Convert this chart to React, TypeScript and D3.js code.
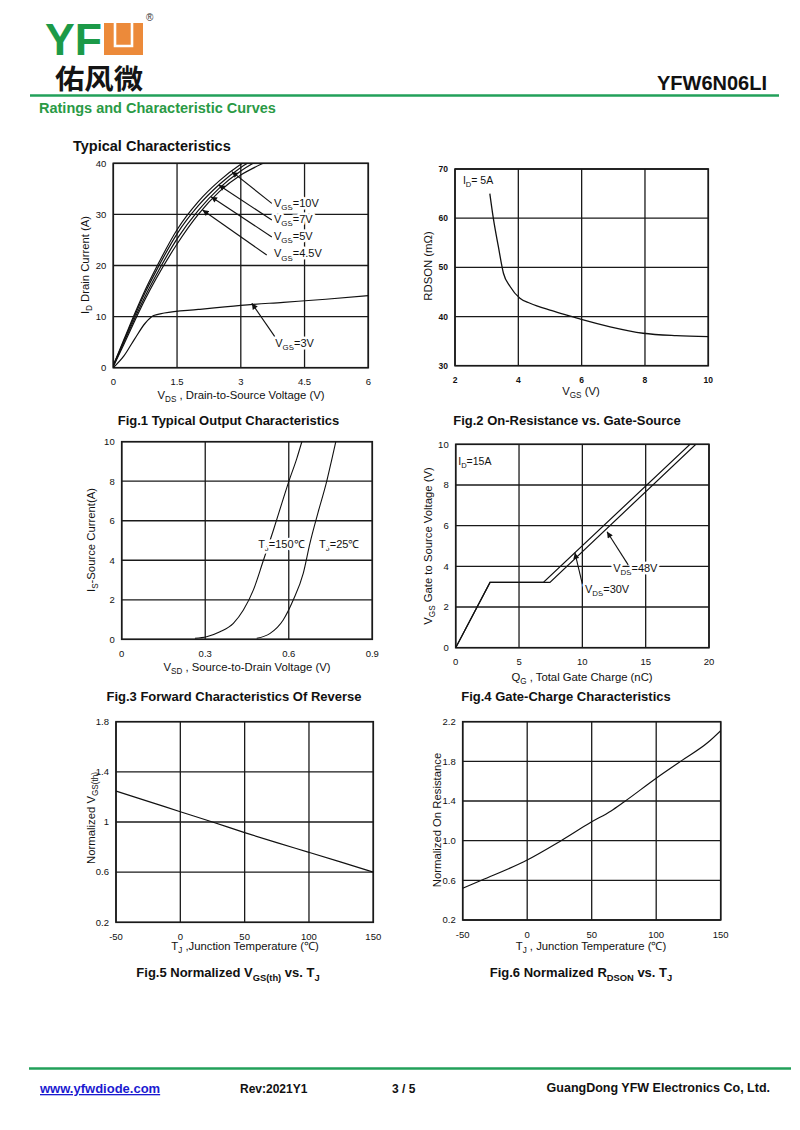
import React from 'react';
import * as d3 from 'd3';

const FONT = '"Liberation Sans", Arial, Helvetica, sans-serif';
const GRID = '#1a1a1a';
const GREEN = '#22a05a';

// ---------- Fig.1 Typical Output Characteristics ----------
const fig1Vds = [0, 0.25, 0.5, 0.75, 1, 1.5, 2, 2.5, 3, 3.5, 3.8];
const fig1Id10 = [0.5, 5.5, 10.5, 15.2, 19.4, 27, 32.5, 36.6, 39.8, 42.2, 43.5];
const fig1Id7 = [0.4, 5.3, 10.1, 14.7, 18.8, 26.2, 31.7, 35.9, 39.2, 41.6, 42.9];
const fig1Id5 = [0.3, 5.0, 9.6, 14.0, 18.0, 25.2, 30.8, 35.2, 38.5, 41.0, 42.3];
const fig1Id45 = [0.2, 4.6, 9.1, 13.4, 17.3, 24.2, 30.0, 34.5, 37.7, 39.9, 41.0];
const fig1Vds3 = [0, 0.25, 0.5, 0.75, 0.95, 1.2, 2, 3, 4, 5, 6];
const fig1Id3 = [0, 2.3, 5.6, 8.7, 10.2, 10.7, 11.4, 12.2, 12.8, 13.4, 14.1];
const fig1Labels = ['=10V', '=7V', '=5V', '=4.5V'];
const fig1XTicks = [0, 1.5, 3, 4.5, 6];
const fig1YTicks = [0, 10, 20, 30, 40];

// ---------- Fig.2 On-Resistance vs. Gate-Source ----------
const fig2Vgs = [3.1, 3.21, 3.37, 3.53, 3.74, 4.05, 4.37, 5.0, 5.53, 6.05, 6.9, 7.94, 8.99, 10];
const fig2Rds = [65, 60, 54.2, 48.8, 46.1, 43.7, 42.7, 41.3, 40.3, 39.3, 37.9, 36.6, 36.1, 35.9];
const fig2XTicks = [2, 4, 6, 8, 10];
const fig2YTicks = [30, 40, 50, 60, 70];

// ---------- Fig.3 Forward Characteristics Of Reverse ----------
const fig3V150 = [0.263, 0.305, 0.353, 0.401, 0.437, 0.473, 0.509, 0.545, 0.575, 0.6, 0.629, 0.647];
const fig3I150 = [0.05, 0.13, 0.38, 0.81, 1.48, 2.5, 4.0, 5.53, 6.88, 7.98, 9.16, 10];
const fig3V25 = [0.485, 0.533, 0.58, 0.616, 0.652, 0.676, 0.706, 0.736, 0.754, 0.769];
const fig3I25 = [0.05, 0.3, 0.98, 1.99, 3.34, 4.86, 6.46, 7.98, 9.07, 10];
const fig3XTicks = [0, 0.3, 0.6, 0.9];
const fig3YTicks = [0, 2, 4, 6, 8, 10];

// ---------- Fig.4 Gate-Charge Characteristics ----------
const fig4Q30 = [0, 2.71, 6.92, 18.5];
const fig4V30 = [0, 3.21, 3.21, 10];
const fig4Q48 = [0, 2.71, 7.44, 18.96];
const fig4V48 = [0, 3.21, 3.21, 10];
const fig4XTicks = [0, 5, 10, 15, 20];
const fig4YTicks = [0, 2, 4, 6, 8, 10];

// ---------- Fig.5 Normalized VGS(th) vs. TJ ----------
const fig5T = [-50, -25, 0, 25, 50, 75, 100, 125, 150];
const fig5V = [1.247, 1.165, 1.082, 1.0, 0.915, 0.835, 0.758, 0.68, 0.6];
const fig5XTicks = [-50, 0, 50, 100, 150];
const fig5YTicks = [0.2, 0.6, 1, 1.4, 1.8];

// ---------- Fig.6 Normalized RDSON vs. TJ ----------
const fig6T = [-50, -35, 0, 25, 50, 65, 75, 100, 120, 140, 150];
const fig6R = [0.52, 0.603, 0.805, 0.99, 1.19, 1.3, 1.39, 1.63, 1.81, 1.99, 2.11];
const fig6XTicks = [-50, 0, 50, 100, 150];
const fig6YTicks = [0.2, 0.6, 1.0, 1.4, 1.8, 2.2];

type Part = [string, string?];

function Rich({ parts, fs, ...props }: any) {
  const out: any[] = [];
  let shifted = false;
  const off = fs * 0.28;
  parts.forEach((p: Part, i: number) => {
    const [t, s] = p;
    if (s === 'sub') {
      out.push(
        <tspan key={i} fontSize={fs * 0.72} dy={shifted ? 0 : off}>
          {t}
        </tspan>
      );
      shifted = true;
    } else {
      out.push(
        <tspan key={i} dy={shifted ? -off : 0}>
          {t}
        </tspan>
      );
      shifted = false;
    }
  });
  return (
    <text fontSize={fs} fontFamily={FONT} {...props}>
      {out}
    </text>
  );
}

function Frame({ x, y, xt, yt, xf, yf, fw = 400, fs = 9.5, id }: any) {
  const [x0, x1] = x.range();
  const [y0, y1] = y.range();
  return (
    <g>
      <defs>
        <clipPath id={id}>
          <rect x={x0} y={y1} width={x1 - x0} height={y0 - y1} />
        </clipPath>
      </defs>
      {xt.map((t: number) => (
        <line key={'gx' + t} x1={x(t)} x2={x(t)} y1={y0} y2={y1} stroke={GRID} strokeWidth={1.3} />
      ))}
      {yt.map((t: number) => (
        <line key={'gy' + t} x1={x0} x2={x1} y1={y(t)} y2={y(t)} stroke={GRID} strokeWidth={1.3} />
      ))}
      <rect x={x0} y={y1} width={x1 - x0} height={y0 - y1} fill="none" stroke={GRID} strokeWidth={1.6} />
      {xt.map((t: number) => (
        <text key={'tx' + t} x={x(t)} y={y0 + 17.5} textAnchor="middle" fontSize={fs} fontWeight={fw} fontFamily={FONT} fill="#111">
          {xf(t)}
        </text>
      ))}
      {yt.map((t: number) => (
        <text key={'ty' + t} x={x0 - 7} y={y(t)} dy="0.35em" textAnchor="end" fontSize={fs} fontWeight={fw} fontFamily={FONT} fill="#111">
          {yf(t)}
        </text>
      ))}
    </g>
  );
}

function mkLine(x: any, y: any, xs: number[], ys: number[], curve: any = d3.curveMonotoneX) {
  const pts = d3.zip(xs, ys) as [number, number][];
  return d3
    .line<[number, number]>()
    .x((d) => x(d[0]))
    .y((d) => y(d[1]))
    .curve(curve)(pts) as string;
}

const halo = { stroke: 'white', strokeWidth: 5, paintOrder: 'stroke', strokeLinejoin: 'round' } as any;

function Arrow({ x1, y1, x2, y2 }: any) {
  return <line x1={x1} y1={y1} x2={x2} y2={y2} stroke="#111" strokeWidth={1.1} markerEnd="url(#ah)" />;
}

const fmt = (t: number) => String(t);
const fmt1 = (t: number) => t.toFixed(1);

export default function App() {
  // scales
  const x1 = d3.scaleLinear().domain([0, 6]).range([113.3, 368.3]);
  const y1 = d3.scaleLinear().domain([0, 40]).range([367.7, 163.3]);
  const x2 = d3.scaleLinear().domain([2, 10]).range([455, 708.3]);
  const y2 = d3.scaleLinear().domain([30, 70]).range([365.7, 169]);
  const x3 = d3.scaleLinear().domain([0, 0.9]).range([121.7, 372.3]);
  const y3 = d3.scaleLinear().domain([0, 10]).range([639.3, 441.7]);
  const x4 = d3.scaleLinear().domain([0, 20]).range([455.7, 709]);
  const y4 = d3.scaleLinear().domain([0, 10]).range([647.7, 444.3]);
  const x5 = d3.scaleLinear().domain([-50, 150]).range([116, 373.3]);
  const y5 = d3.scaleLinear().domain([0.2, 1.8]).range([922.3, 721.7]);
  const x6 = d3.scaleLinear().domain([-50, 150]).range([462.7, 720.7]);
  const y6 = d3.scaleLinear().domain([0.2, 2.2]).range([920, 721.7]);

  const fig1Series = [fig1Id10, fig1Id7, fig1Id5, fig1Id45];
  // annotation anchors (data units)
  const fig1LabelI = [31.5, 28.26, 25.0, 21.57];
  const fig1TailI = [32.17, 28.9, 25.58, 22.05];
  const fig1TailV = [3.73, 3.73, 3.73, 3.61];
  const fig1TipV = [2.79, 2.48, 2.3, 2.1];
  const fig1TipI = [38.36, 35.75, 33.46, 30.86];

  const fs = 11.3;

  return (
    <svg width={800} height={1130} style={{ position: 'absolute', left: 0, top: 0, background: 'white' }} fontFamily={FONT}>
      <defs>
        <marker id="ah" viewBox="0 0 10 10" refX={10} refY={5} markerWidth={7} markerHeight={6} markerUnits="userSpaceOnUse" orient="auto">
          <path d="M0,0 L10,5 L0,10 z" fill="#111" />
        </marker>
      </defs>
      <rect x={0} y={0} width={800} height={1130} fill="white" />

      {/* ---------- Header ---------- */}
      <text x={45} y={54.5} fontSize={44} fontWeight={700} fill="#1c9a48" fontFamily={FONT} textLength={57} lengthAdjust="spacingAndGlyphs">
        YF
      </text>
      <rect x={104} y={23} width={39} height={32} fill="#ec8a3a" />
      <path d="M115,23 L115,46 L132,46 L132,23" fill="none" stroke="white" strokeWidth={2.6} />
      <text x={146} y={21} fontSize={10} fill="#333" fontFamily={FONT}>®</text>
      <text x={55} y={89} fontSize={27.5} fontWeight={700} fill="#141414" fontFamily='"Noto Sans CJK SC", sans-serif' textLength={88} lengthAdjust="spacingAndGlyphs">
        佑风微
      </text>
      <text x={767} y={90} fontSize={20} fontWeight={700} textAnchor="end" fill="#111" fontFamily={FONT}>
        YFW6N06LI
      </text>
      <line x1={30} x2={779} y1={95.5} y2={95.5} stroke={GREEN} strokeWidth={2.6} />
      <text x={39} y={113} fontSize={14.5} fontWeight={700} fill="#2a9a45" fontFamily={FONT}>
        Ratings and Characteristic Curves
      </text>
      <text x={73} y={151} fontSize={14.5} fontWeight={700} fill="#111" fontFamily={FONT}>
        Typical Characteristics
      </text>

      {/* ---------- Fig.1 ---------- */}
      <Frame x={x1} y={y1} xt={fig1XTicks} yt={fig1YTicks} xf={fmt} yf={fmt} id="c1" />
      <g clipPath="url(#c1)" fill="none" stroke="#111" strokeWidth={1.2}>
        {fig1Series.map((s, i) => (
          <path key={i} d={mkLine(x1, y1, fig1Vds, s)} />
        ))}
        <path d={mkLine(x1, y1, fig1Vds3, fig1Id3)} />
      </g>
      {fig1Labels.map((l, i) => (
        <g key={l}>
          <Arrow x1={x1(fig1TailV[i])} y1={y1(fig1TailI[i])} x2={x1(fig1TipV[i])} y2={y1(fig1TipI[i])} />
          <Rich parts={[['V'], ['GS', 'sub'], [l]]} fs={11} x={x1(3.78)} y={y1(fig1LabelI[i])} dy={4} fill="#111" {...halo} />
        </g>
      ))}
      <Arrow x1={x1(3.8)} y1={y1(6.07)} x2={x1(3.26)} y2={y1(12.6)} />
      <Rich parts={[['V'], ['GS', 'sub'], ['=3V']]} fs={11} x={x1(3.81)} y={y1(4.1)} dy={4} fill="#111" {...halo} />
      <Rich parts={[['V'], ['DS', 'sub'], [' , Drain-to-Source Voltage (V)']]} fs={fs} x={241} y={399} textAnchor="middle" fill="#111" />
      <Rich parts={[['I'], ['D', 'sub'], [' Drain Current (A)']]} fs={fs} transform="translate(89,265) rotate(-90)" textAnchor="middle" fill="#111" />
      <text x={228.5} y={425} fontSize={13} fontWeight={700} textAnchor="middle" fill="#111">
        Fig.1 Typical Output Characteristics
      </text>

      {/* ---------- Fig.2 ---------- */}
      <Frame x={x2} y={y2} xt={fig2XTicks} yt={fig2YTicks} xf={fmt} yf={fmt} fw={700} fs={8.5} id="c2" />
      <path d={mkLine(x2, y2, fig2Vgs, fig2Rds)} fill="none" stroke="#111" strokeWidth={1.3} clipPath="url(#c2)" />
      <Rich parts={[['I'], ['D', 'sub'], ['= 5A']]} fs={10.5} x={x2(2.25)} y={y2(66.9)} dy={3.5} fill="#111" />
      <Rich parts={[['V'], ['GS', 'sub'], [' (V)']]} fs={fs} x={581} y={395} textAnchor="middle" fill="#111" />
      <text transform="translate(432,266) rotate(-90)" fontSize={fs} textAnchor="middle" fill="#111">
        RDSON (mΩ)
      </text>
      <text x={567} y={425} fontSize={13} fontWeight={700} textAnchor="middle" fill="#111">
        Fig.2 On-Resistance vs. Gate-Source
      </text>

      {/* ---------- Fig.3 ---------- */}
      <Frame x={x3} y={y3} xt={fig3XTicks} yt={fig3YTicks} xf={fmt} yf={fmt} id="c3" />
      <g clipPath="url(#c3)" fill="none" stroke="#111" strokeWidth={1.1}>
        <path d={mkLine(x3, y3, fig3V150, fig3I150)} />
        <path d={mkLine(x3, y3, fig3V25, fig3I25)} />
      </g>
      <Rich parts={[['T'], ['J', 'sub'], ['=150℃']]} fs={11} x={x3(0.49)} y={y3(4.64)} dy={4} fill="#111" {...halo} />
      <Rich parts={[['T'], ['J', 'sub'], ['=25℃']]} fs={11} x={x3(0.709)} y={y3(4.64)} dy={4} fill="#111" {...halo} />
      <Rich parts={[['V'], ['SD', 'sub'], [' , Source-to-Drain Voltage (V)']]} fs={fs} x={247} y={671} textAnchor="middle" fill="#111" />
      <Rich parts={[['I'], ['S', 'sub'], ['-Source Current(A)']]} fs={fs} transform="translate(95,540) rotate(-90)" textAnchor="middle" fill="#111" />
      <text x={234} y={701} fontSize={13} fontWeight={700} textAnchor="middle" fill="#111">
        Fig.3 Forward Characteristics Of Reverse
      </text>

      {/* ---------- Fig.4 ---------- */}
      <Frame x={x4} y={y4} xt={fig4XTicks} yt={fig4YTicks} xf={fmt} yf={fmt} id="c4" />
      <g clipPath="url(#c4)" fill="none" stroke="#111" strokeWidth={1.2}>
        <path d={mkLine(x4, y4, fig4Q30, fig4V30, d3.curveLinear)} />
        <path d={mkLine(x4, y4, fig4Q48, fig4V48, d3.curveLinear)} />
      </g>
      <Rich parts={[['I'], ['D', 'sub'], ['=15A']]} fs={10.5} x={x4(0.2)} y={y4(8.98)} dy={4} fill="#111" />
      <Arrow x1={x4(13.62)} y1={y4(4.07)} x2={x4(11.95)} y2={y4(5.7)} />
      <Arrow x1={x4(10.02)} y1={y4(3.08)} x2={x4(9.41)} y2={y4(4.67)} />
      <Rich parts={[['V'], ['DS', 'sub'], ['=48V']]} fs={11} x={x4(12.43)} y={y4(3.73)} dy={4} fill="#111" {...halo} />
      <Rich parts={[['V'], ['DS', 'sub'], ['=30V']]} fs={11} x={x4(10.2)} y={y4(2.67)} dy={4} fill="#111" {...halo} />
      <Rich parts={[['Q'], ['G', 'sub'], [' , Total Gate Charge (nC)']]} fs={fs} x={582} y={681} textAnchor="middle" fill="#111" />
      <Rich parts={[['V'], ['GS', 'sub'], ['  Gate to Source Voltage (V)']]} fs={fs} transform="translate(432,546) rotate(-90)" textAnchor="middle" fill="#111" />
      <text x={566} y={701} fontSize={13} fontWeight={700} textAnchor="middle" fill="#111">
        Fig.4 Gate-Charge Characteristics
      </text>

      {/* ---------- Fig.5 ---------- */}
      <Frame x={x5} y={y5} xt={fig5XTicks} yt={fig5YTicks} xf={fmt} yf={fmt} id="c5" />
      <path d={mkLine(x5, y5, fig5T, fig5V)} fill="none" stroke="#111" strokeWidth={1.2} clipPath="url(#c5)" />
      <Rich parts={[['T'], ['J', 'sub'], [' ,Junction Temperature (℃)']]} fs={fs} x={245} y={950} textAnchor="middle" fill="#111" />
      <Rich parts={[['Normalized V'], ['GS(th)', 'sub']]} fs={fs} transform="translate(95,818) rotate(-90)" textAnchor="middle" fill="#111" />
      <Rich parts={[['Fig.5 Normalized V'], ['GS(th)', 'sub'], [' vs. T'], ['J', 'sub']]} fs={13} x={228} y={977} textAnchor="middle" fontWeight={700} fill="#111" />

      {/* ---------- Fig.6 ---------- */}
      <Frame x={x6} y={y6} xt={fig6XTicks} yt={fig6YTicks} xf={fmt} yf={fmt1} id="c6" />
      <path d={mkLine(x6, y6, fig6T, fig6R)} fill="none" stroke="#111" strokeWidth={1.2} clipPath="url(#c6)" />
      <Rich parts={[['T'], ['J', 'sub'], [' , Junction Temperature (℃)']]} fs={fs} x={591} y={950} textAnchor="middle" fill="#111" />
      <text transform="translate(441,820) rotate(-90)" fontSize={fs} textAnchor="middle" fill="#111">
        Normalized On Resistance
      </text>
      <Rich parts={[['Fig.6 Normalized R'], ['DSON', 'sub'], [' vs. T'], ['J', 'sub']]} fs={13} x={581} y={977} textAnchor="middle" fontWeight={700} fill="#111" />

      {/* ---------- Footer ---------- */}
      <line x1={29} x2={791} y1={1068.5} y2={1068.5} stroke={GREEN} strokeWidth={2.6} />
      <text x={40} y={1093} fontSize={13} fontWeight={700} fill="#1a1ad0" style={{ textDecoration: 'underline' }}>
        www.yfwdiode.com
      </text>
      <text x={240} y={1093} fontSize={12} fontWeight={700} fill="#111">
        Rev:2021Y1
      </text>
      <text x={392} y={1093} fontSize={12} fontWeight={700} fill="#111">
        3 / 5
      </text>
      <text x={770} y={1092} fontSize={12.5} fontWeight={700} textAnchor="end" fill="#111">
        GuangDong YFW Electronics Co, Ltd.
      </text>
    </svg>
  );
}
